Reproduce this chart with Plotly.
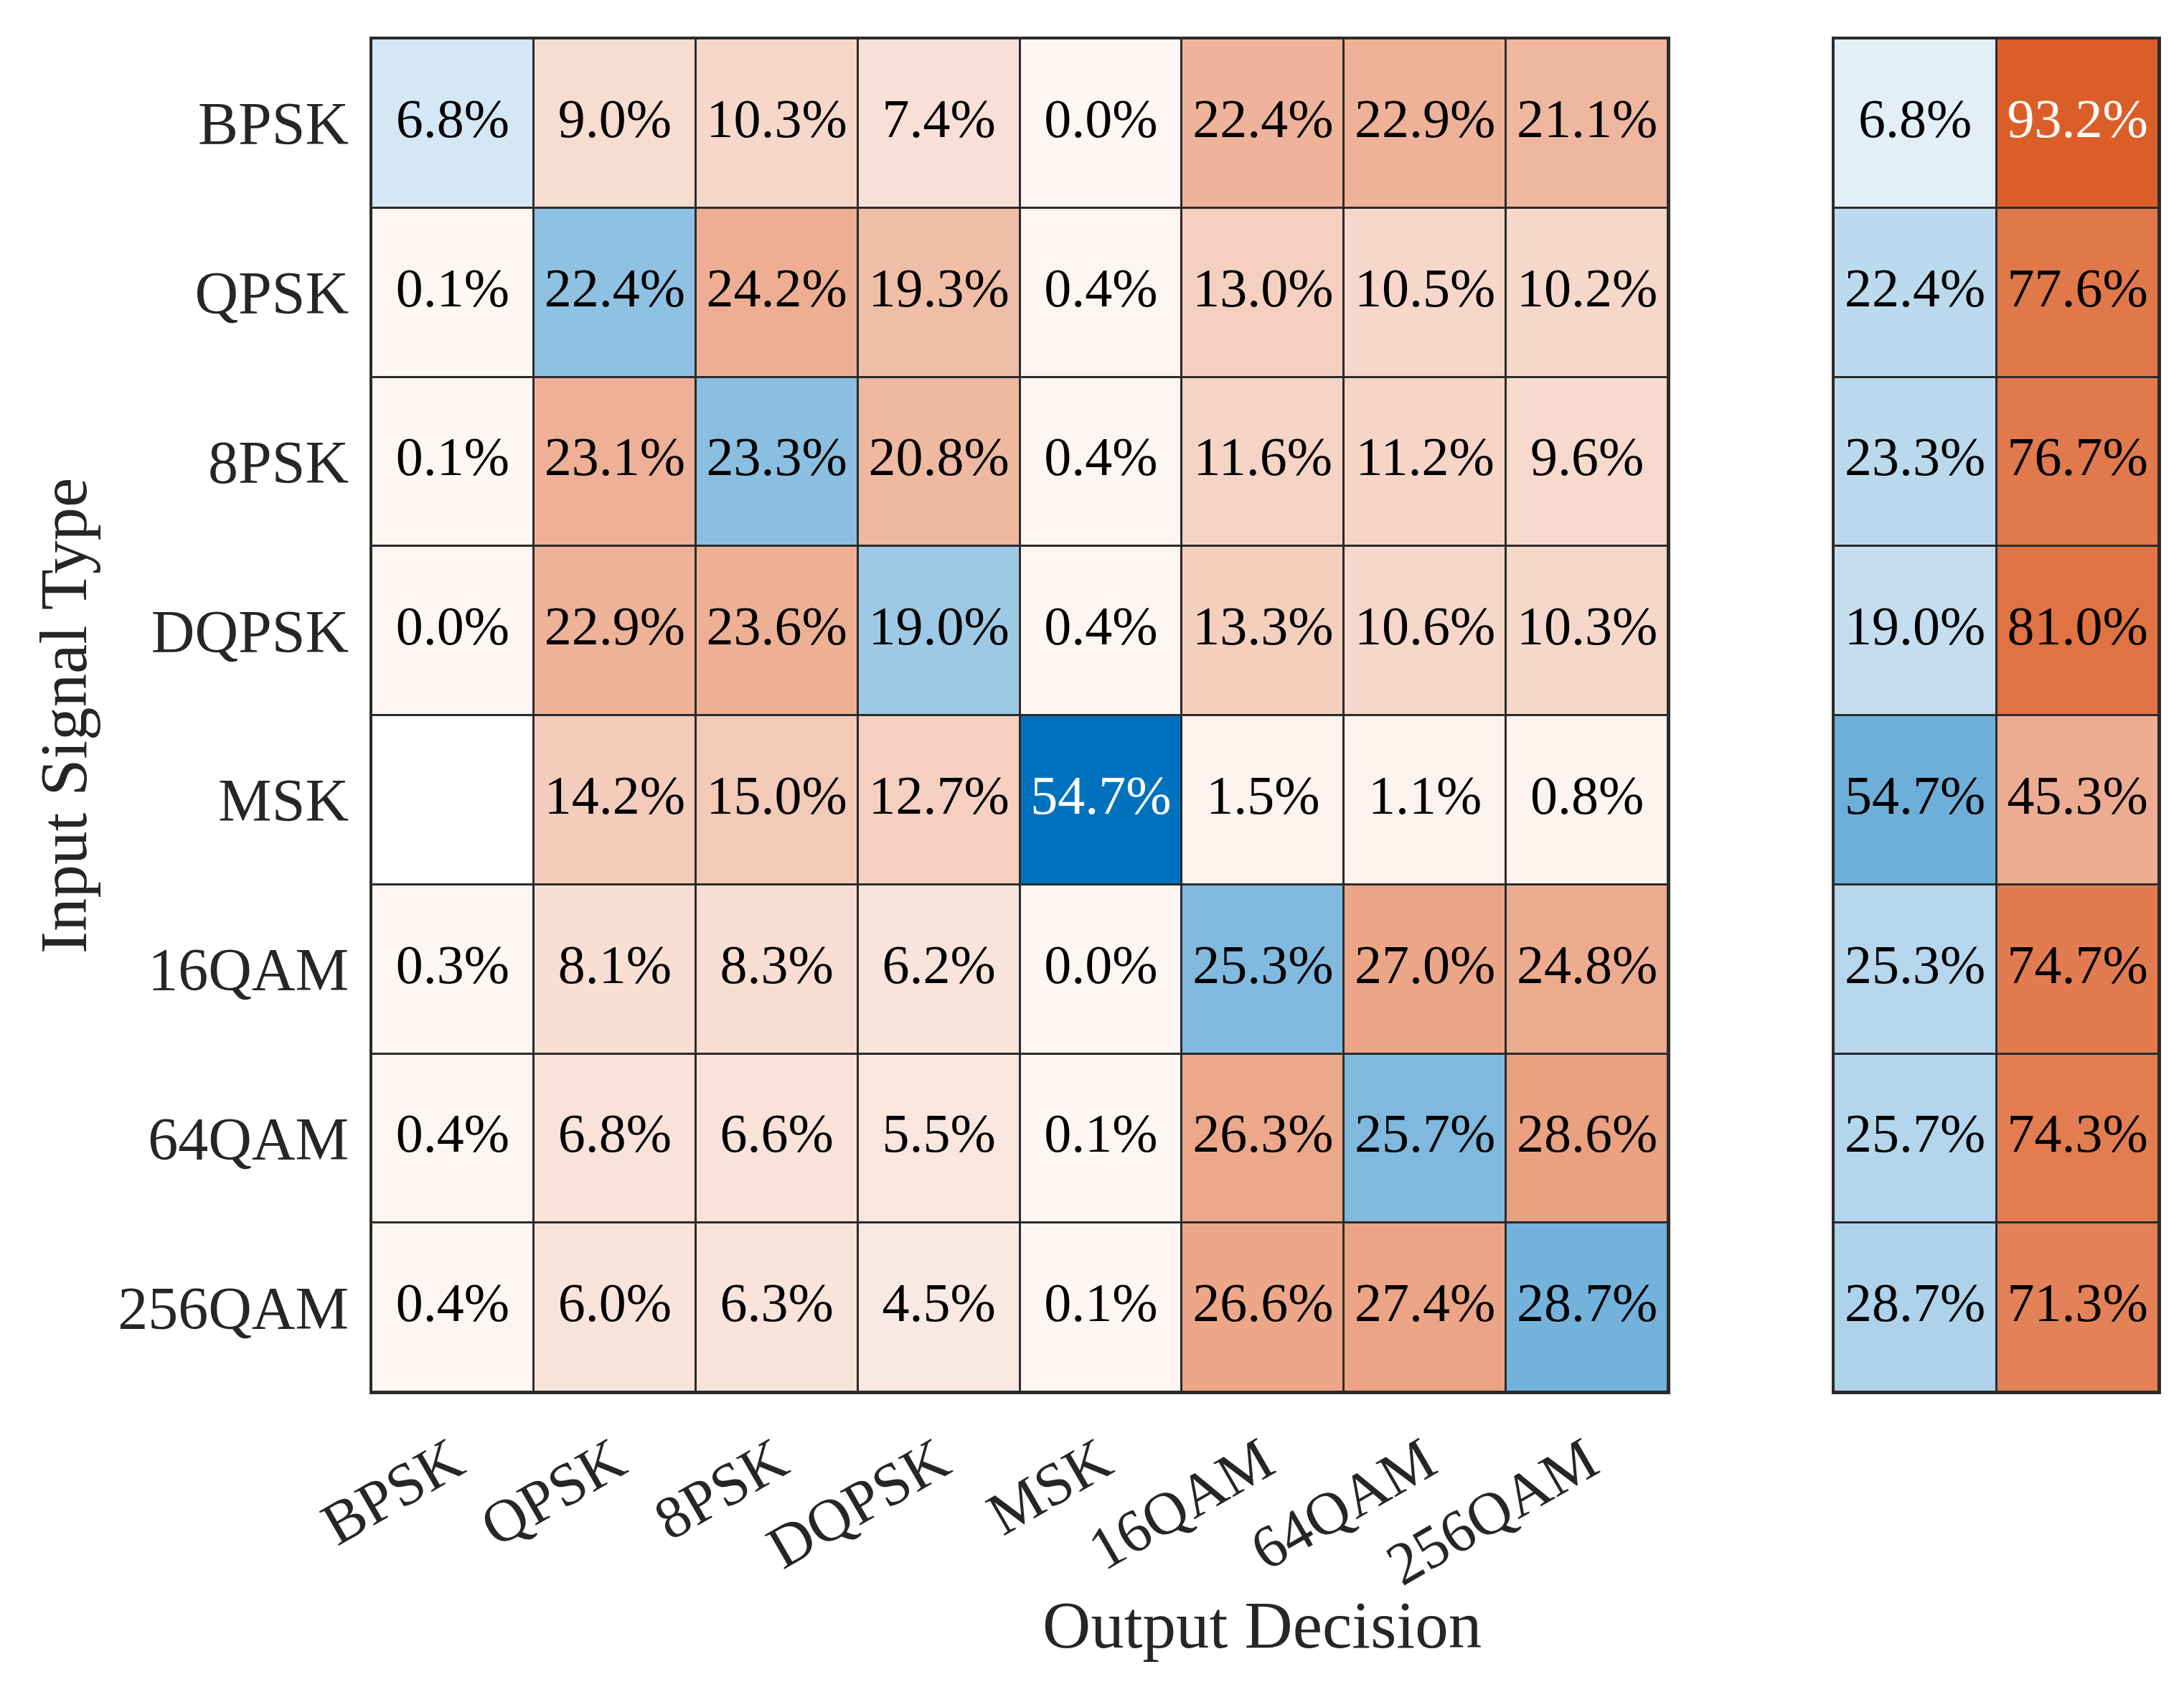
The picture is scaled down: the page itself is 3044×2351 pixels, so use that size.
import plotly.graph_objects as go

# ---------------- data ----------------
outputs = ["BPSK", "QPSK", "8PSK", "DQPSK", "MSK", "16QAM", "64QAM", "256QAM"]
inputs = ["BPSK", "QPSK", "8PSK", "DQPSK", "MSK", "16QAM", "64QAM", "256QAM"]

row_bpsk = [6.8, 9.0, 10.3, 7.4, 0.0, 22.4, 22.9, 21.1]
row_qpsk = [0.1, 22.4, 24.2, 19.3, 0.4, 13.0, 10.5, 10.2]
row_8psk = [0.1, 23.1, 23.3, 20.8, 0.4, 11.6, 11.2, 9.6]
row_dqpsk = [0.0, 22.9, 23.6, 19.0, 0.4, 13.3, 10.6, 10.3]
row_msk = [None, 14.2, 15.0, 12.7, 54.7, 1.5, 1.1, 0.8]
row_16qam = [0.3, 8.1, 8.3, 6.2, 0.0, 25.3, 27.0, 24.8]
row_64qam = [0.4, 6.8, 6.6, 5.5, 0.1, 26.3, 25.7, 28.6]
row_256qam = [0.4, 6.0, 6.3, 4.5, 0.1, 26.6, 27.4, 28.7]

summary_cols = ["Correct", "Incorrect"]
correct_pct = [6.8, 22.4, 23.3, 19.0, 54.7, 25.3, 25.7, 28.7]
incorrect_pct = [93.2, 77.6, 76.7, 81.0, 45.3, 74.7, 74.3, 71.3]

# ---------------- styling ----------------
FONT = "Liberation Serif"
LINE = "#2b2b2b"
TICK = "#262626"
BLUE = (0, 114, 189)
RED = (217, 83, 25)
WHITE = (255, 255, 255)
T0 = 0.05  # minimum tint for non-empty cells
colorscale = [[0.0, "rgb(217,83,25)"], [0.5, "rgb(255,255,255)"], [1.0, "rgb(0,114,189)"]]

rows = [row_bpsk, row_qpsk, row_8psk, row_dqpsk, row_msk, row_16qam, row_64qam, row_256qam]


def tint(ratio):
    return T0 + (1 - T0) * ratio


def mix(target, t):
    return tuple(WHITE[k] + (target[k] - WHITE[k]) * t for k in range(3))


def text_color(rgb):
    b = (rgb[0] * 299 + rgb[1] * 587 + rgb[2] * 114) / 1000
    return "white" if b < 128 else "black"


vmax = max(v for r in rows for v in r if v is not None)

z_main, tx, ty, tt, tc = [], [], [], [], []
for i, r in enumerate(rows):
    zr = []
    for j, v in enumerate(r):
        if v is None:
            zr.append(0.5)
            continue
        t = tint(v / vmax)
        if i == j:
            zr.append(0.5 + 0.5 * t)
            col = mix(BLUE, t)
        else:
            zr.append(0.5 - 0.5 * t)
            col = mix(RED, t)
        tx.append(outputs[j])
        ty.append(inputs[i])
        tt.append(f"{v:.1f}%")
        tc.append(text_color(col))
    z_main.append(zr)

z_sum, sx, sy, st, sc = [], [], [], [], []
for i in range(len(inputs)):
    c, ic = correct_pct[i], incorrect_pct[i]
    tcor, tinc = tint(c / 100), tint(ic / 100)
    z_sum.append([0.5 + 0.5 * tcor, 0.5 - 0.5 * tinc])
    for col_name, v, t, target in ((summary_cols[0], c, tcor, BLUE), (summary_cols[1], ic, tinc, RED)):
        sx.append(col_name)
        sy.append(inputs[i])
        st.append(f"{v:.1f}%")
        sc.append(text_color(mix(target, t)))

fig = go.Figure()
fig.add_trace(go.Heatmap(z=z_main, x=outputs, y=inputs, colorscale=colorscale, zmin=0, zmax=1,
                         showscale=False, xgap=3, ygap=3, hoverinfo="skip",
                         xaxis="x", yaxis="y"))
fig.add_trace(go.Scatter(x=tx, y=ty, text=tt, mode="text",
                         textfont=dict(family=FONT, size=76, color=tc),
                         textposition="middle center", hoverinfo="skip", showlegend=False,
                         xaxis="x", yaxis="y"))
fig.add_trace(go.Heatmap(z=z_sum, x=summary_cols, y=inputs, colorscale=colorscale, zmin=0, zmax=1,
                         showscale=False, xgap=3, ygap=3, hoverinfo="skip",
                         xaxis="x2", yaxis="y2"))
fig.add_trace(go.Scatter(x=sx, y=sy, text=st, mode="text",
                         textfont=dict(family=FONT, size=76, color=sc),
                         textposition="middle center", hoverinfo="skip", showlegend=False,
                         xaxis="x2", yaxis="y2"))

W, H = 3044, 2351
ydom = [1 - 1932 / H, 1 - 46 / H]
axis_common = dict(showline=True, mirror=True, linecolor=LINE, linewidth=3, automargin=False,
                   showgrid=False, zeroline=False, ticks="", fixedrange=True)

fig.update_layout(
    width=W, height=H,
    margin=dict(l=0, r=0, t=0, b=0, pad=0, autoexpand=False),
    paper_bgcolor="white",
    plot_bgcolor=LINE,
    showlegend=False,
    font=dict(family=FONT, color=TICK),
    xaxis=dict(domain=[510 / W, 2317 / W], anchor="y", type="category",
               categoryorder="array", categoryarray=outputs, range=[-0.5, 7.5],
               tickangle=-30, tickfont=dict(family=FONT, size=84, color=TICK),
               ticklabelstandoff=12, **axis_common),
    yaxis=dict(domain=ydom, anchor="x", type="category",
               categoryorder="array", categoryarray=inputs, range=[7.5, -0.5],
               tickfont=dict(family=FONT, size=84, color=TICK),
               ticklabelstandoff=12, **axis_common),
    xaxis2=dict(domain=[2548 / W, 3001 / W], anchor="y2", type="category",
                categoryorder="array", categoryarray=summary_cols, range=[-0.5, 1.5],
                showticklabels=False, **axis_common),
    yaxis2=dict(domain=ydom, anchor="x2", type="category",
                categoryorder="array", categoryarray=inputs, range=[7.5, -0.5],
                showticklabels=False, **axis_common),
    annotations=[
        dict(text="Output Decision", x=1751 / W, y=1 - 2256 / H, xref="paper", yref="paper",
             xanchor="center", yanchor="middle", showarrow=False,
             font=dict(family=FONT, size=93, color=TICK)),
        dict(text="Input Signal Type", x=80 / W, y=1 - 990 / H, xref="paper", yref="paper",
             xanchor="center", yanchor="middle", textangle=-90, showarrow=False,
             font=dict(family=FONT, size=93, color=TICK)),
    ],
)

fig.write_html("out.html")
